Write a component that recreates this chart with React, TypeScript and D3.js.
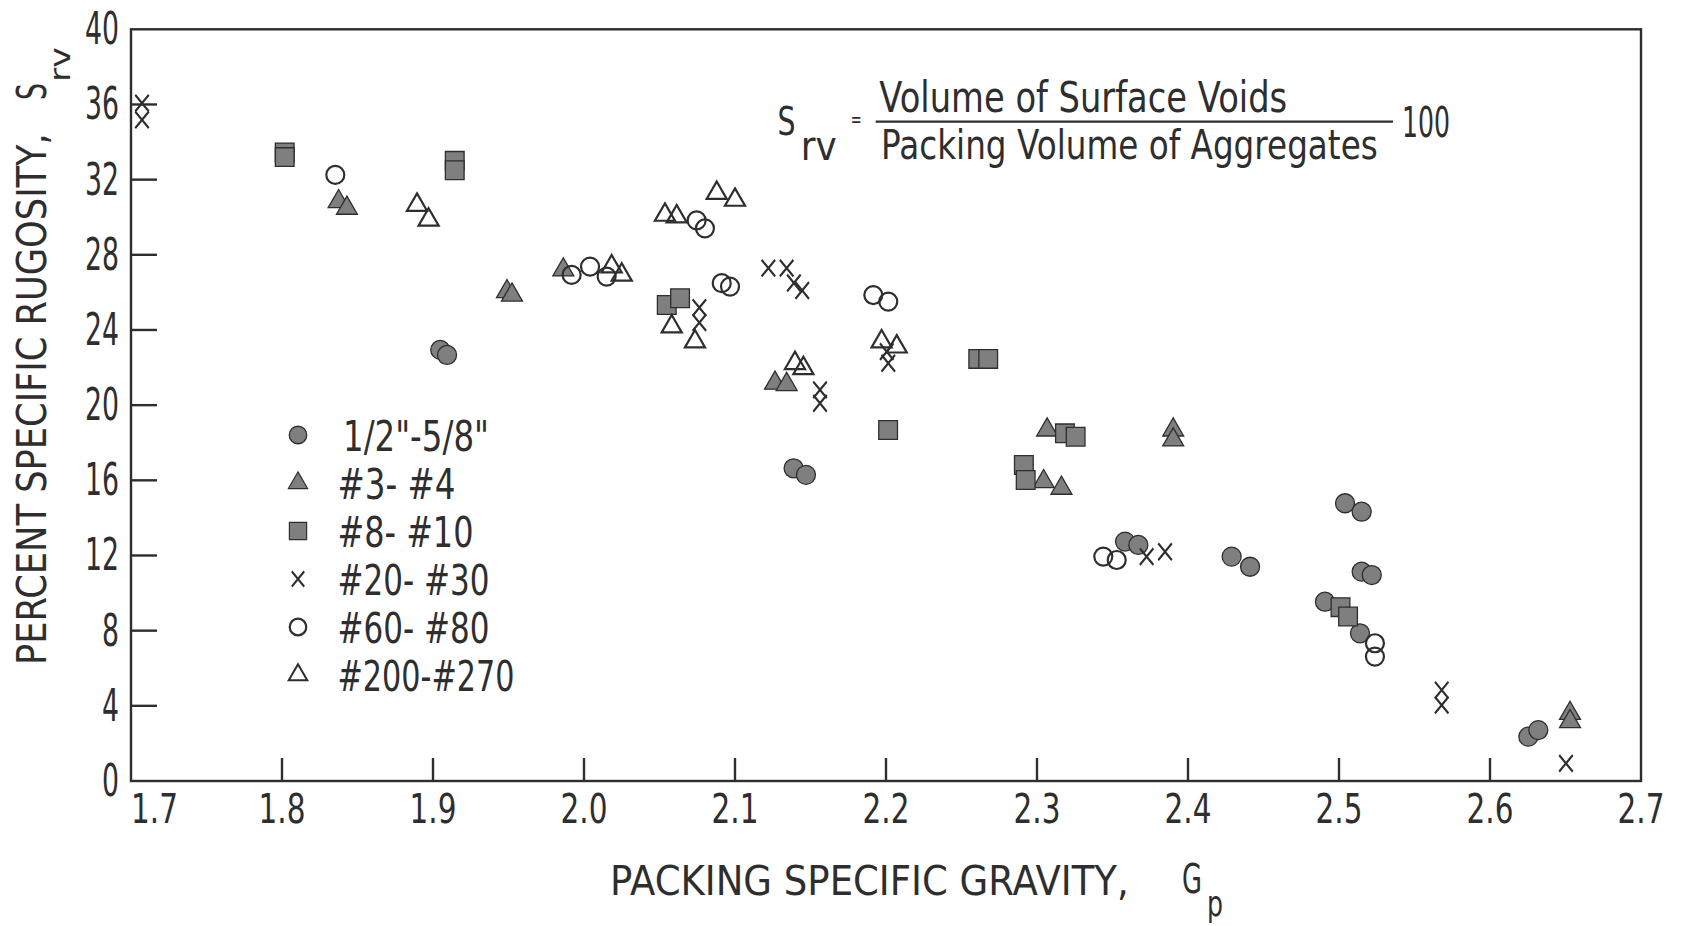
import React from "react";
import * as d3 from "d3";

// ---------- data (Packing specific gravity, Percent specific rugosity) ----------
const halfToFiveEighths: [number, number][] = [
  [1.9048, 22.94], [1.9093, 22.67], [2.1388, 16.64], [2.147, 16.29],
  [2.3583, 12.74], [2.3671, 12.56], [2.4289, 11.94], [2.4411, 11.4],
  [2.504, 14.78], [2.515, 14.33], [2.515, 11.14], [2.5217, 10.96],
  [2.4907, 9.54], [2.5139, 7.86], [2.6254, 2.36], [2.632, 2.71],
];
const mesh3to4: [number, number][] = [
  [1.8375, 30.83], [1.843, 30.48], [1.949, 26.04], [1.9523, 25.86],
  [1.9863, 27.2], [2.1265, 21.17], [2.1342, 21.1], [2.3067, 18.68],
  [2.3044, 15.93], [2.3162, 15.58], [2.3902, 18.68], [2.3902, 18.15],
  [2.653, 3.6], [2.653, 3.16],
];
const mesh8to10: [number, number][] = [
  [1.8018, 33.45], [1.8018, 33.2], [1.9144, 33.0], [1.9144, 32.5],
  [2.0548, 25.33], [2.0636, 25.69], [2.2014, 18.68], [2.2611, 22.46],
  [2.2677, 22.46], [2.3185, 18.5], [2.3256, 18.32], [2.2913, 16.82],
  [2.2925, 16.02], [2.501, 9.25], [2.506, 8.75],
];
const mesh20to30: [number, number][] = [
  [1.7073, 36.07], [1.7073, 35.18], [2.1221, 27.29], [2.1342, 27.29],
  [2.139, 26.5], [2.1445, 26.1], [2.0764, 25.19], [2.0764, 24.39],
  [2.1563, 20.81], [2.1563, 20.1], [2.2005, 22.85], [2.2015, 22.23],
  [2.3726, 11.94], [2.3848, 12.2], [2.568, 4.84], [2.568, 4.04],
  [2.6503, 0.94],
];
const mesh60to80: [number, number][] = [
  [1.8353, 32.25], [1.9918, 26.93], [2.004, 27.37],
  [2.015, 26.84], [2.0746, 29.83], [2.0801, 29.41], [2.0912, 26.49],
  [2.0967, 26.31], [2.1916, 25.86], [2.2015, 25.51], [2.3439, 11.94],
  [2.3528, 11.76], [2.5238, 7.33], [2.5238, 6.62],
];
const mesh200to270: [number, number][] = [
  [1.8894, 30.65], [1.8971, 29.86], [2.0183, 27.37], [2.025, 26.93],
  [2.0536, 30.12], [2.0614, 30.03], [2.0879, 31.28], [2.1, 30.92],
  [2.0581, 24.18], [2.0735, 23.38], [2.1397, 22.23], [2.1453, 21.96],
  [2.1971, 23.38], [2.2071, 23.11],
];

const legendLabels = ['1/2"-5/8"', "#3- #4", "#8- #10", "#20- #30", "#60- #80", "#200-#270"];
const xTickValues = [1.7, 1.8, 1.9, 2.0, 2.1, 2.2, 2.3, 2.4, 2.5, 2.6, 2.7];
const xTickLabels = ["1.7", "1.8", "1.9", "2.0", "2.1", "2.2", "2.3", "2.4", "2.5", "2.6", "2.7"];
const yTickValues = [0, 4, 8, 12, 16, 20, 24, 28, 32, 36, 40];
const yTickLabels = ["0", "4", "8", "12", "16", "20", "24", "28", "32", "36", "40"];

// ---------- layout / style ----------
const W = 1682;
const H = 926;
const PLOT = { left: 131, right: 1641, top: 29.3, bottom: 781 };
const INK = "#2e2e2e";
const GRAY = "#7f7f7f";
const FONT_NAME = "DejaVu Sans";
const FONT = `'${FONT_NAME}', sans-serif`;
const legendWidths = [146, 118, 136, 152, 152, 177];

// ---------- condensed text helper (measured natural width, scaled horizontally) ----------
let measureCtx: CanvasRenderingContext2D | null = null;
function naturalWidth(text: string, size: number): number {
  if (!measureCtx && typeof document !== "undefined") {
    measureCtx = document.createElement("canvas").getContext("2d");
  }
  if (!measureCtx) return text.length * size * 0.6;
  measureCtx.font = `${size}px '${FONT_NAME}'`;
  const w = measureCtx.measureText(text).width;
  return w > 0 ? w : text.length * size * 0.6;
}

function FitText({
  text, x, y, width, size, anchor = "start", vertical = false,
}: {
  text: string; x: number; y: number; width: number; size: number;
  anchor?: "start" | "middle" | "end"; vertical?: boolean;
}) {
  const sx = width / naturalWidth(text, size);
  const shift = anchor === "middle" ? -width / 2 : anchor === "end" ? -width : 0;
  const tf = vertical
    ? `translate(${x},${y}) rotate(-90) translate(${shift},0) scale(${sx},1)`
    : `translate(${x + shift},${y}) scale(${sx},1)`;
  return (
    <text transform={tf} fontSize={size} fill={INK} fontFamily={FONT}>
      {text}
    </text>
  );
}

type Kind = "circleFilled" | "triFilled" | "square" | "cross" | "circleOpen" | "triOpen";

const series: { data: [number, number][]; kind: Kind }[] = [
  { data: halfToFiveEighths, kind: "circleFilled" },
  { data: mesh3to4, kind: "triFilled" },
  { data: mesh8to10, kind: "square" },
  { data: mesh20to30, kind: "cross" },
  { data: mesh60to80, kind: "circleOpen" },
  { data: mesh200to270, kind: "triOpen" },
];

const triPath = d3.symbol().type(d3.symbolTriangle).size(190)() as string;
const triOpenPath = d3.symbol().type(d3.symbolTriangle).size(175)() as string;
const sqPath = d3.symbol().type(d3.symbolSquare).size(350)() as string;
const xSym: any = (d3 as any).symbolX;
const crossPath = xSym
  ? (d3.symbol().type(xSym).size(150)() as string)
  : "M-7.5,-7.5L7.5,7.5M-7.5,7.5L7.5,-7.5";

function Marker({ kind, scale = 1 }: { kind: Kind; scale?: number }) {
  const s = `scale(${scale})`;
  switch (kind) {
    case "circleFilled":
      return <circle r={9.5 * scale} fill={GRAY} stroke={INK} strokeWidth={1.3} />;
    case "triFilled":
      return <path d={triPath} transform={s} fill={GRAY} stroke={INK} strokeWidth={1.3} />;
    case "square":
      return <path d={sqPath} transform={s} fill={GRAY} stroke={INK} strokeWidth={1.3} />;
    case "cross":
      return (
        <path d={crossPath} transform={`scale(${0.9 * scale},${1.1 * scale})`} fill="none" stroke={INK} strokeWidth={2.2} />
      );
    case "circleOpen":
      return <circle r={9 * scale} fill="none" stroke={INK} strokeWidth={2.2} />;
    case "triOpen":
      return <path d={triOpenPath} transform={s} fill="none" stroke={INK} strokeWidth={2.2} />;
  }
}

export default function App() {
  const x = d3.scaleLinear().domain([1.7, 2.7]).range([PLOT.left, PLOT.right]);
  const y = d3.scaleLinear().domain([0, 40]).range([PLOT.bottom, PLOT.top]);

  const legendX = 298;
  const legendY0 = 435;
  const legendStep = 48;

  return (
    <svg
      width={W}
      height={H}
      viewBox={`0 0 ${W} ${H}`}
      style={{ position: "absolute", left: 0, top: 0, background: "#fff" }}
      fontFamily={FONT}
    >
      <rect x={0} y={0} width={W} height={H} fill="#fff" />

      {/* frame */}
      <rect
        x={PLOT.left}
        y={PLOT.top}
        width={PLOT.right - PLOT.left}
        height={PLOT.bottom - PLOT.top}
        fill="none"
        stroke={INK}
        strokeWidth={2.4}
      />

      {/* y ticks + labels */}
      {yTickValues.map((v, i) => (
        <g key={`yt${v}`}>
          {v > 0 && v < 40 && (
            <line x1={PLOT.left} x2={PLOT.left + 26} y1={y(v)} y2={y(v)} stroke={INK} strokeWidth={2.4} />
          )}
          <FitText
            text={yTickLabels[i]}
            x={119}
            y={y(v) + 15}
            anchor="end"
            size={44}
            width={17 * yTickLabels[i].length}
          />
        </g>
      ))}

      {/* x ticks + labels */}
      {xTickValues.map((v, i) => (
        <g key={`xt${v}`}>
          {i > 0 && i < xTickValues.length - 1 && (
            <line x1={x(v)} x2={x(v)} y1={PLOT.bottom} y2={PLOT.bottom - 23} stroke={INK} strokeWidth={2.4} />
          )}
          <FitText
            text={xTickLabels[i]}
            x={x(v)}
            y={823}
            anchor={i === 0 ? "start" : "middle"}
            size={41}
            width={47}
          />
        </g>
      ))}

      {/* data */}
      {series.map((s, si) => (
        <g key={`s${si}`}>
          {s.data.map((d, di) => (
            <g key={di} transform={`translate(${x(d[0])},${y(d[1])})`}>
              <Marker kind={s.kind} />
            </g>
          ))}
        </g>
      ))}

      {/* legend */}
      {series.map((s, i) => {
        const cy = legendY0 + i * legendStep;
        return (
          <g key={`lg${i}`}>
            <g transform={`translate(${legendX},${cy})`}>
              <Marker kind={s.kind} scale={0.92} />
            </g>
            <FitText
              text={legendLabels[i]}
              x={i === 0 ? 343 : 337.5}
              y={cy + 15.5}
              size={43}
              width={legendWidths[i]}
            />
          </g>
        );
      })}

      {/* formula annotation */}
      <FitText text="S" x={777.5} y={135} size={39} width={18} />
      <FitText text="rv" x={800.7} y={160} size={40} width={36} />
      <FitText text="=" x={850.7} y={127} size={22} width={11} />
      <FitText text="Volume of Surface Voids" x={879.3} y={111.7} size={43} width={408} />
      <line x1={875.7} x2={1393} y1={121.7} y2={121.7} stroke={INK} strokeWidth={2.2} />
      <FitText text="Packing Volume of Aggregates" x={881} y={159} size={41} width={497} />
      <FitText text="100" x={1402} y={136.7} size={43} width={48} />

      {/* x title */}
      <FitText text="PACKING SPECIFIC GRAVITY," x={610} y={895} size={41} width={519} />
      <FitText text="G" x={1182} y={893} size={41} width={20} />
      <FitText text="p" x={1207} y={916} size={36} width={16} />

      {/* y title */}
      <FitText text="PERCENT SPECIFIC RUGOSITY," x={46} y={665} size={41} width={532} vertical />
      <FitText text="S" x={46} y={100} size={41} width={17} vertical />
      <FitText text="rv" x={70} y={82} size={28} width={35} vertical />
    </svg>
  );
}
